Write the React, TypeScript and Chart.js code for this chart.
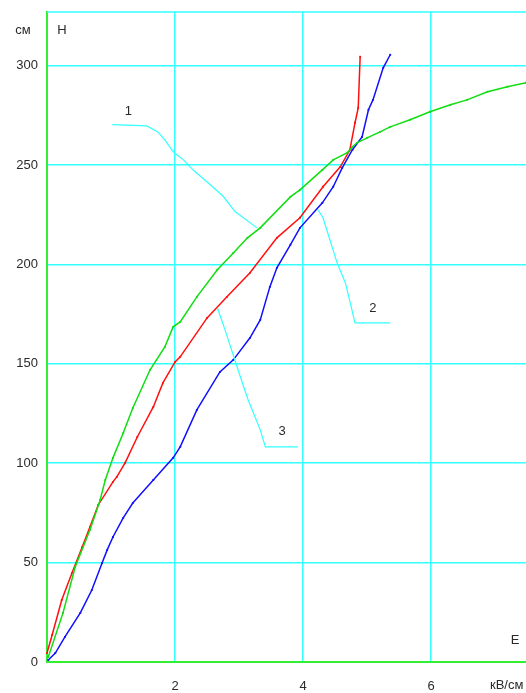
import React, { useEffect, useRef } from "react";
import { Chart, registerables } from "chart.js";

Chart.register(...registerables);

// Curve 1 (green)
const curve1X = [0.02, 0.25, 0.44, 0.67, 0.83, 0.91, 1.03, 1.19, 1.34, 1.61, 1.84, 1.97, 2.08, 2.34, 2.66, 2.91, 3.13, 3.33, 3.8, 3.95, 4.3, 4.47, 4.69, 4.77, 4.84, 5.0, 5.2, 5.36, 5.67, 5.98, 6.3, 6.56, 6.88, 7.19, 7.48];
const curve1Y = [2.5, 24.7, 47.8, 66.4, 81.5, 91.6, 102.7, 115.2, 127.8, 147.0, 158.5, 168.6, 171.1, 183.7, 197.3, 205.8, 213.4, 218.4, 234.0, 237.5, 247.6, 252.6, 256.2, 259.2, 261.2, 263.7, 266.7, 269.2, 272.8, 276.8, 280.3, 282.8, 286.9, 289.4, 291.4];

// Curve 2 (red)
const curve2X = [0.0, 0.08, 0.23, 0.39, 0.55, 0.67, 0.8, 1.03, 1.09, 1.22, 1.41, 1.66, 1.81, 2.0, 2.08, 2.5, 2.81, 3.17, 3.59, 3.95, 4.31, 4.58, 4.73, 4.81, 4.86, 4.89];
const curve2Y = [4.5, 13.6, 31.2, 44.8, 57.9, 67.9, 79.0, 90.6, 93.1, 100.2, 113.2, 128.3, 140.4, 151.0, 153.5, 173.1, 183.7, 195.8, 213.4, 223.5, 239.1, 249.1, 257.7, 271.3, 278.8, 304.5];

// Curve 3 (blue)
const curve3X = [0.02, 0.13, 0.28, 0.52, 0.7, 0.86, 0.94, 1.03, 1.19, 1.34, 1.66, 1.97, 2.08, 2.34, 2.7, 2.91, 3.17, 3.33, 3.48, 3.59, 3.8, 3.95, 4.3, 4.47, 4.61, 4.77, 4.92, 5.02, 5.09, 5.25, 5.36];
const curve3Y = [1.0, 4.5, 12.6, 24.7, 36.2, 49.8, 56.4, 62.9, 72.5, 80.0, 91.6, 102.7, 108.2, 126.8, 145.9, 152.0, 163.1, 172.1, 188.7, 198.3, 209.9, 218.4, 231.0, 239.1, 248.6, 257.7, 264.2, 277.8, 282.8, 298.9, 305.5];

// Leader lines for the curve labels
const leader1X = [1.02, 1.56, 1.73, 1.84, 1.97, 2.13, 2.28, 2.55, 2.75, 2.94, 3.28];
const leader1Y = [270.3, 269.7, 266.7, 262.7, 256.7, 252.6, 247.6, 240.1, 234.3, 226.5, 218.4];
const leader2X = [4.23, 4.31, 4.53, 4.66, 4.81, 5.36];
const leader2Y = [227.5, 223.5, 200.8, 190.7, 170.6, 170.6];
const leader3X = [2.66, 2.78, 3.02, 3.14, 3.33, 3.41, 3.92];
const leader3Y = [178.2, 167.1, 143.4, 131.9, 116.8, 108.2, 108.2];

const curveLabels = ["1", "2", "3"];
const curveLabelX = [1.27, 5.09, 3.67];
const curveLabelY = [276.8, 177.7, 115.8];

const xTicks = [0, 2, 4, 6];
const yTicks = [0, 50, 100, 150, 200, 250, 300];
const xMax = 7.48;
const yMax = 327;
const yUnit = "см";
const yName = "H";
const xName = "E";
const xUnit = "кВ/см";

const zip = (xs: number[], ys: number[]) => xs.map((x, i) => ({ x, y: ys[i] }));

const CYAN = "#33ffff";
const AXIS_GREEN = "#33ee33";
const TEXT = "#2a2a2a";
const FONT = "'Liberation Sans', Arial, sans-serif";

export default function App() {
  const ref = useRef<HTMLCanvasElement | null>(null);

  useEffect(() => {
    if (!ref.current) return;
    const textPlugin = {
      id: "extraText",
      beforeDatasetsDraw(chart: any) {
        const { ctx, chartArea } = chart;
        ctx.save();
        ctx.strokeStyle = CYAN;
        ctx.lineWidth = 1.5;
        ctx.beginPath();
        ctx.moveTo(chartArea.left, chartArea.top);
        ctx.lineTo(chartArea.right, chartArea.top);
        ctx.stroke();
        ctx.restore();
      },
      afterDraw(chart: any) {
        const { ctx, chartArea, scales } = chart;
        ctx.save();
        ctx.fillStyle = TEXT;
        ctx.font = `13px ${FONT}`;
        ctx.textBaseline = "middle";
        ctx.textAlign = "center";
        ctx.fillText(yUnit, chartArea.left - 24, chartArea.top + 18);
        ctx.fillText(yName, chartArea.left + 15, chartArea.top + 18);
        ctx.fillText(xName, chartArea.right - 11, chartArea.bottom - 22);
        ctx.textAlign = "left";
        ctx.fillText(xUnit, chartArea.right - 36, chartArea.bottom + 23);
        ctx.textAlign = "center";
        curveLabels.forEach((t, i) => {
          ctx.fillText(t, scales.x.getPixelForValue(curveLabelX[i]), scales.y.getPixelForValue(curveLabelY[i]));
        });
        ctx.restore();
      },
    };

    const curveDs = (label: string, xs: number[], ys: number[], color: string) => ({
      label,
      data: zip(xs, ys),
      showLine: true,
      borderColor: color,
      backgroundColor: color,
      borderWidth: 1.5,
      pointStyle: "rect",
      pointRadius: 1.3,
      pointBorderWidth: 0,
      tension: 0,
      clip: false,
    });
    const leaderDs = (label: string, xs: number[], ys: number[]) => ({
      label,
      data: zip(xs, ys),
      showLine: true,
      borderColor: CYAN,
      backgroundColor: CYAN,
      borderWidth: 1.2,
      pointRadius: 0,
      tension: 0,
    });

    const zeroPad = (s: any) => {
      s.paddingTop = 0;
      s.paddingBottom = 0;
      s.paddingLeft = 0;
      s.paddingRight = 0;
    };

    const chart = new Chart(ref.current, {
      type: "scatter",
      data: {
        datasets: [
          leaderDs("l1", leader1X, leader1Y),
          leaderDs("l2", leader2X, leader2Y),
          leaderDs("l3", leader3X, leader3Y),
          curveDs("1", curve1X, curve1Y, "#11dd11"),
          curveDs("2", curve2X, curve2Y, "#ff1010"),
          curveDs("3", curve3X, curve3Y, "#1010ff"),
        ] as any,
      },
      options: {
        responsive: false,
        animation: false,
        layout: { autoPadding: false, padding: { top: 12, left: 0, right: 0, bottom: 0 } },
        plugins: { legend: { display: false }, tooltip: { enabled: false } },
        scales: {
          x: {
            type: "linear",
            min: 0,
            max: xMax,
            afterBuildTicks: (s: any) => {
              s.ticks = xTicks.map((v) => ({ value: v }));
            },
            afterFit: (s: any) => {
              s.height = 31;
              zeroPad(s);
            },
            grid: { color: CYAN, lineWidth: 1.5, drawTicks: false },
            border: { color: AXIS_GREEN, width: 2 },
            ticks: {
              color: TEXT,
              font: { family: FONT, size: 13 },
              padding: 17,
              maxRotation: 0,
              callback: (v: any) => (v === 0 ? "" : String(v)),
            },
          },
          y: {
            type: "linear",
            min: 0,
            max: yMax,
            afterBuildTicks: (s: any) => {
              s.ticks = yTicks.map((v) => ({ value: v }));
            },
            afterFit: (s: any) => {
              s.width = 47;
              zeroPad(s);
            },
            grid: { color: CYAN, lineWidth: 1.5, drawTicks: false },
            border: { color: AXIS_GREEN, width: 2 },
            ticks: {
              color: TEXT,
              font: { family: FONT, size: 13 },
              padding: 9,
              callback: (v: any) => String(v),
            },
          },
        },
      },
      plugins: [textPlugin],
    } as any);
    return () => chart.destroy();
  }, []);

  return (
    <div style={{ position: "absolute", left: 0, top: 0, width: 526, height: 693, background: "#fff" }}>
      <canvas ref={ref} width={526} height={693} style={{ display: "block" }} />
    </div>
  );
}
